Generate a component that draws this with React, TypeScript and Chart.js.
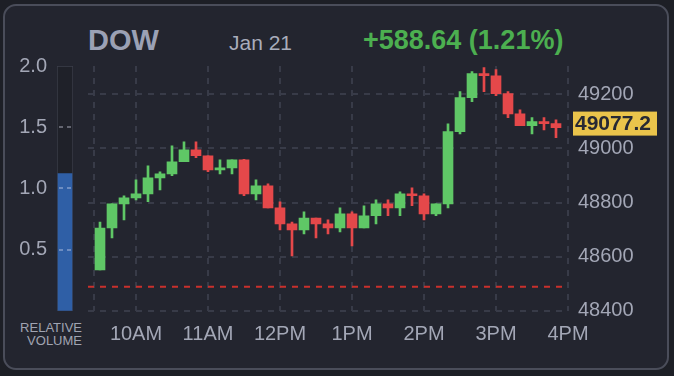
import React, { useEffect, useRef } from 'react';
import { Chart, registerables } from 'chart.js';

Chart.register(...registerables);

// ---- data ----
const times = [
  '09:30', '09:40', '09:50', '10:00', '10:10', '10:20', '10:30', '10:40', '10:50',
  '11:00', '11:10', '11:20', '11:30', '11:40', '11:50', '12:00', '12:10', '12:20',
  '12:30', '12:40', '12:50', '13:00', '13:10', '13:20', '13:30', '13:40', '13:50',
  '14:00', '14:10', '14:20', '14:30', '14:40', '14:50', '15:00', '15:10', '15:20',
  '15:30', '15:40', '15:50',
];
const opens = [
  48551, 48706, 48795, 48817, 48832, 48891, 48906, 48951, 48995,
  48973, 48921, 48928, 48958, 48832, 48862, 48780, 48721, 48699,
  48743, 48721, 48706, 48758, 48706, 48751, 48795, 48780, 48832,
  48825, 48758, 48795, 49062, 49188, 49277, 49269, 49203, 49128,
  49084, 49099, 49092,
];
const highs = [
  48728, 48795, 48825, 48884, 48936, 48914, 49010, 49025, 49025,
  48973, 48958, 48958, 48960, 48884, 48869, 48803, 48728, 48766,
  48743, 48736, 48780, 48766, 48788, 48810, 48810, 48840, 48854,
  48832, 48795, 49091, 49210, 49284, 49299, 49292, 49210, 49143,
  49114, 49114, 49106,
];
const lows = [
  48551, 48669, 48736, 48810, 48803, 48847, 48899, 48951, 48966,
  48914, 48906, 48906, 48825, 48810, 48780, 48699, 48603, 48684,
  48669, 48684, 48691, 48640, 48706, 48721, 48751, 48751, 48788,
  48736, 48751, 48780, 49054, 49173, 49210, 49195, 49114, 49084,
  49054, 49069, 49040,
];
const closes = [
  48706, 48795, 48817, 48832, 48891, 48906, 48951, 48995, 48973,
  48921, 48928, 48958, 48832, 48862, 48780, 48721, 48699, 48743,
  48721, 48706, 48758, 48706, 48751, 48795, 48780, 48832, 48825,
  48758, 48795, 49062, 49188, 49277, 49269, 49203, 49128, 49084,
  49099, 49092, 49077.2,
];
const prevClose = 48488.56;
const lastPrice = 49077.2;
const priceTicks = [48400, 48600, 48800, 49000, 49200];
const hourTicks = ['10:00', '11:00', '12:00', '13:00', '14:00', '15:00', '16:00'];
const hourLabels = ['10AM', '11AM', '12PM', '1PM', '2PM', '3PM', '4PM'];
const extraGridTime = '09:25';
const sessionStart = '09:20';
const sessionEnd = '16:00';
const volumeTicks = [0.5, 1.0, 1.5, 2.0];
const volumeTickLabels = ['0.5', '1.0', '1.5', '2.0'];
const relativeVolume = [1.12];
const volumeMax = 2.0;

// ---- styles ----
const FONT = "'Liberation Sans', Arial, Helvetica, sans-serif";
const GREEN = '#5fc766';
const RED = '#e5484a';
const LABEL = '#a3a7b6';
const GRID = '#383b48';

const toMin = (t: string) => {
  const [h, m] = t.split(':').map(Number);
  return h * 60 + m;
};

export default function App() {
  const mainRef = useRef<HTMLCanvasElement | null>(null);
  const volRef = useRef<HTMLCanvasElement | null>(null);

  useEffect(() => {
    const xs = times.map(toMin);
    const colors = opens.map((o, i) => (closes[i] >= o ? GREEN : RED));
    const tickMins = [toMin(extraGridTime), ...hourTicks.map(toMin)];
    const labelFor = (v: number) => {
      const idx = hourTicks.map(toMin).indexOf(v);
      return idx >= 0 ? hourLabels[idx] : '';
    };

    const priceLabel = {
      id: 'priceLabel',
      afterDraw(chart: any) {
        const { ctx, chartArea, scales } = chart;
        const y = scales.y.getPixelForValue(lastPrice) - 4;
        ctx.save();
        ctx.fillStyle = '#eac44b';
        ctx.fillRect(chartArea.right + 5, y - 12, 84, 24);
        ctx.fillStyle = '#272933';
        ctx.font = `bold 21px ${FONT}`;
        ctx.textBaseline = 'middle';
        ctx.textAlign = 'left';
        ctx.fillText(lastPrice.toFixed(1), chartArea.right + 7, y + 1);
        ctx.restore();
      },
    };

    const main = new Chart(mainRef.current!, {
      type: 'bar',
      data: {
        datasets: [
          {
            type: 'line',
            data: [
              { x: toMin(sessionStart), y: prevClose },
              { x: toMin(sessionEnd), y: prevClose },
            ],
            borderColor: '#c9302c',
            borderWidth: 2,
            borderDash: [6, 6],
            pointRadius: 0,
            order: 3,
          } as any,
          {
            type: 'bar',
            data: xs.map((x, i) => ({ x, y: [lows[i], highs[i]] })),
            backgroundColor: colors,
            barThickness: 2,
            grouped: false,
            order: 2,
          } as any,
          {
            type: 'bar',
            data: xs.map((x, i) => ({ x, y: [opens[i], closes[i]] })),
            backgroundColor: colors,
            barThickness: 10,
            minBarLength: 2,
            grouped: false,
            order: 1,
          } as any,
        ],
      },
      options: {
        animation: false,
        responsive: false,
        maintainAspectRatio: false,
        layout: { padding: { left: 88, top: 66, right: 0, bottom: 0 } },
        plugins: { legend: { display: false }, tooltip: { enabled: false } },
        scales: {
          x: {
            type: 'linear',
            min: toMin(sessionStart),
            max: toMin(sessionEnd),
            offset: false,
            grid: { offset: false, color: GRID, lineWidth: 2, drawTicks: false },
            border: { display: false, dash: [6, 6] },
            ticks: {
              color: LABEL,
              font: { family: FONT, size: 20 },
              padding: 12,
              maxRotation: 0,
              autoSkip: false,
              callback: (v: any) => labelFor(Number(v)),
            },
            afterBuildTicks: (s: any) => {
              s.ticks = tickMins.map((v) => ({ value: v }));
            },
            afterFit: (s: any) => {
              s.height = 65.3;
            },
          },
          y: {
            type: 'linear',
            position: 'right',
            min: 48400,
            max: 49305,
            grid: { color: GRID, lineWidth: 2, drawTicks: false },
            border: { display: false, dash: [6, 6] },
            ticks: {
              color: LABEL,
              font: { family: FONT, size: 20 },
              padding: 10,
              callback: (v: any) => String(v),
            },
            afterBuildTicks: (s: any) => {
              s.ticks = priceTicks.map((v) => ({ value: v }));
            },
            afterFit: (s: any) => {
              s.width = 106;
            },
          },
        },
      },
      plugins: [priceLabel],
    });

    const vol = new Chart(volRef.current!, {
      type: 'bar',
      data: {
        labels: ['vol'],
        datasets: [
          {
            data: relativeVolume,
            backgroundColor: '#2f5fa6',
            barThickness: 14,
            grouped: false,
            order: 1,
          } as any,
          {
            data: [volumeMax],
            backgroundColor: '#1f2129',
            borderColor: '#3c3f4b',
            borderWidth: 1,
            borderSkipped: false,
            barThickness: 16,
            grouped: false,
            order: 2,
          } as any,
        ],
      },
      options: {
        animation: false,
        responsive: false,
        maintainAspectRatio: false,
        layout: { padding: { left: 0, top: 66, right: 17, bottom: 65.3 } },
        plugins: { legend: { display: false }, tooltip: { enabled: false } },
        scales: {
          x: { display: false, offset: true },
          y: {
            min: 0,
            max: volumeMax,
            position: 'left',
            grid: {
              z: 1,
              drawTicks: false,
              lineWidth: 2,
              color: (c: any) =>
                c.tick && c.tick.value > 0 && c.tick.value < volumeMax
                  ? 'rgba(225,230,245,0.35)'
                  : 'rgba(0,0,0,0)',
            },
            border: { display: false, dash: [4, 4], dashOffset: 6 },
            ticks: {
              color: LABEL,
              font: { family: FONT, size: 20 },
              padding: 10,
              callback: (v: any) => {
                const i = volumeTicks.indexOf(Number(v));
                return i >= 0 ? volumeTickLabels[i] : '';
              },
            },
            afterBuildTicks: (s: any) => {
              s.ticks = volumeTicks.map((v) => ({ value: v }));
            },
            afterFit: (s: any) => {
              s.width = 57;
            },
          },
        },
      },
    });

    return () => {
      main.destroy();
      vol.destroy();
    };
  }, []);

  return (
    <div
      style={{
        position: 'fixed',
        left: 0,
        top: 0,
        width: 674,
        height: 376,
        background: '#1d1f26',
        fontFamily: FONT,
        overflow: 'hidden',
      }}
    >
      <div
        style={{
          position: 'absolute',
          left: 3,
          top: 4,
          width: 662,
          height: 362,
          border: '2px solid #4a4d5a',
          borderRadius: 13,
          background: '#23252f',
        }}
      />
      <div
        style={{
          position: 'absolute',
          left: 88,
          top: 25.5,
          fontSize: 29,
          lineHeight: 1,
          fontWeight: 'bold',
          color: '#9ba1b5',
          whiteSpace: 'nowrap',
        }}
      >
        DOW
      </div>
      <div
        style={{
          position: 'absolute',
          left: 229,
          top: 32,
          fontSize: 21,
          lineHeight: 1,
          color: '#a9adbb',
          whiteSpace: 'nowrap',
        }}
      >
        Jan 21
      </div>
      <div
        style={{
          position: 'absolute',
          left: 363,
          top: 27,
          fontSize: 27,
          lineHeight: 1,
          fontWeight: 'bold',
          color: '#4caf50',
          whiteSpace: 'nowrap',
        }}
      >
        +588.64 (1.21%)
      </div>
      <div
        style={{
          position: 'absolute',
          right: 674 - 82,
          top: 321,
          fontSize: 13,
          lineHeight: '13.3px',
          color: '#a0a4b2',
          textAlign: 'right',
          whiteSpace: 'nowrap',
        }}
      >
        RELATIVE
        <br />
        VOLUME
      </div>
      <canvas
        ref={mainRef}
        width={674}
        height={376}
        style={{ position: 'absolute', left: 0, top: 0, width: 674, height: 376 }}
      />
      <canvas
        ref={volRef}
        width={90}
        height={376}
        style={{ position: 'absolute', left: 0, top: 0, width: 90, height: 376 }}
      />
    </div>
  );
}
